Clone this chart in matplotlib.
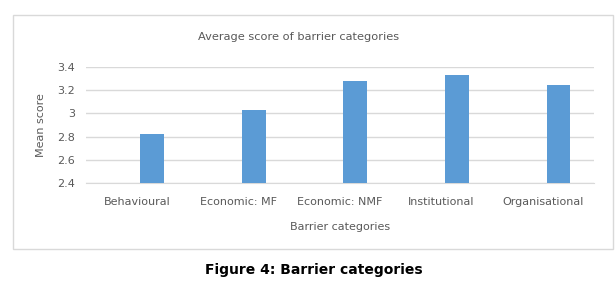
import matplotlib
matplotlib.use('Agg')
import matplotlib.pyplot as plt
from matplotlib.patches import Rectangle
import numpy as np

# data
categories = ['Behavioural', 'Economic: MF', 'Economic: NMF', 'Institutional', 'Organisational']
mean_scores = [2.82, 3.03, 3.28, 3.33, 3.245]
y_ticks = [2.4, 2.6, 2.8, 3.0, 3.2, 3.4]
y_tick_labels = ['2.4', '2.6', '2.8', '3', '3.2', '3.4']

text_col = '#595959'
grid_col = '#D9D9D9'
bar_col = '#5B9BD5'

fig = plt.figure(figsize=(6.15, 2.86), dpi=100)
fig.patch.set_facecolor('white')

# chart frame
frame = Rectangle((13 / 615, 1 - 249 / 286), 600 / 615, 234 / 286,
                  transform=fig.transFigure, fill=False,
                  edgecolor=grid_col, linewidth=1.0)
fig.patches.append(frame)

ax = fig.add_axes([86 / 615, 1 - 183 / 286, 508 / 615, 116 / 286])
x = np.arange(len(categories))
ax.bar(x + 0.15, mean_scores, width=0.235, color=bar_col, zorder=3)

ax.set_xlim(-0.5, len(categories) - 0.5)
ax.set_ylim(2.4, 3.4)
ax.set_yticks(y_ticks)
ax.set_yticklabels(y_tick_labels)
ax.set_xticks(x)
ax.set_xticklabels(categories)
ax.yaxis.grid(True, color=grid_col, linewidth=1.0, zorder=0)
ax.set_axisbelow(True)
for s in ax.spines.values():
    s.set_visible(False)
ax.spines['bottom'].set_visible(True)
ax.spines['bottom'].set_color(grid_col)
ax.tick_params(axis='both', length=0, colors=text_col, labelsize=8)
ax.tick_params(axis='x', pad=10)
ax.tick_params(axis='y', pad=8)

ax.set_xlabel('Barrier categories', color=text_col, fontsize=8, labelpad=11)
ax.set_ylabel('Mean score', color=text_col, fontsize=8, labelpad=8)
fig.text(299 / 615, 1 - 37 / 286, 'Average score of barrier categories',
         ha='center', va='center', color=text_col, fontsize=8.2)

fig.text(314 / 615, 1 - 270 / 286, 'Figure 4: Barrier categories',
         ha='center', va='center', color='black', fontsize=10, fontweight='bold')

fig.savefig('out.png', dpi=100)
